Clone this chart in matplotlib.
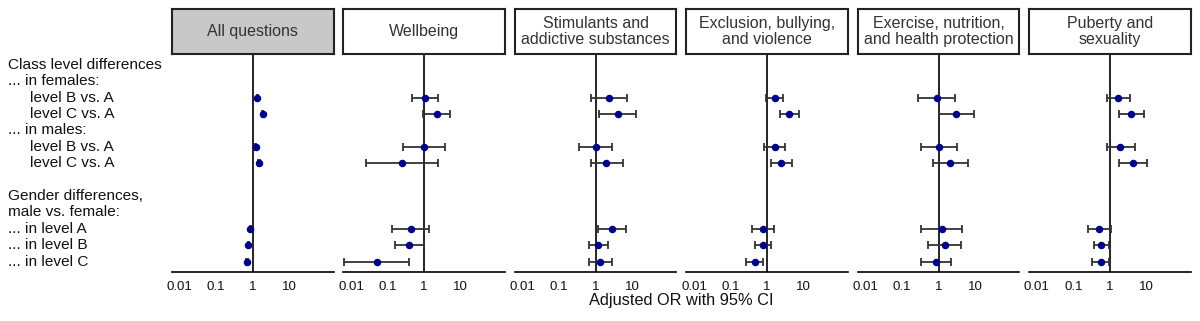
import matplotlib
matplotlib.use("Agg")
import matplotlib.pyplot as plt
import matplotlib.transforms as mtransforms
import numpy as np

plt.rcParams['font.family'] = ['Liberation Sans', 'DejaVu Sans']

# ---------------- data ----------------
panel_titles = ["All questions", "Wellbeing", "Stimulants and\naddictive substances",
                "Exclusion, bullying,\nand violence", "Exercise, nutrition,\nand health protection",
                "Puberty and\nsexuality"]

row_labels = ["Class level differences", "... in females:", "level B vs. A", "level C vs. A",
              "... in males:", "level B vs. A", "level C vs. A", "",
              "Gender differences,", "male vs. female:", "... in level A", "... in level B",
              "... in level C"]
estimate_rows = [2, 3, 5, 6, 10, 11, 12]

# odds ratios, lower and upper 95% CI per panel (order of estimate_rows)
or_all = [1.32, 1.88, 1.20, 1.48, 0.86, 0.76, 0.69]
lo_all = [1.27, 1.80, 1.15, 1.41, 0.82, 0.72, 0.65]
hi_all = [1.37, 1.96, 1.25, 1.55, 0.90, 0.80, 0.73]

or_well = [1.06, 2.18, 0.99, 0.24, 0.43, 0.39, 0.0515]
lo_well = [0.47, 0.90, 0.266, 0.026, 0.133, 0.154, 0.0063]
hi_well = [2.42, 5.15, 3.68, 2.32, 1.34, 0.96, 0.38]

or_stim = [2.30, 4.0, 1.02, 1.98, 2.78, 1.19, 1.35]
lo_stim = [0.76, 1.24, 0.36, 0.73, 1.14, 0.67, 0.67]
hi_stim = [7.1, 12.6, 2.84, 5.6, 6.67, 2.2, 2.72]

or_excl = [1.63, 4.08, 1.63, 2.45, 0.77, 0.76, 0.46]
lo_excl = [0.96, 2.25, 0.83, 1.29, 0.375, 0.46, 0.26]
hi_excl = [2.78, 7.4, 3.16, 4.84, 1.56, 1.24, 0.79]

or_exer = [0.88, 3.03, 1.04, 2.12, 1.21, 1.49, 0.86]
lo_exer = [0.28, 1.0, 0.33, 0.72, 0.34, 0.52, 0.33]
hi_exer = [2.91, 9.4, 3.3, 6.4, 4.33, 4.15, 2.21]

or_pub = [1.68, 3.85, 1.90, 4.27, 0.51, 0.58, 0.57]
lo_pub = [0.81, 1.71, 0.81, 1.71, 0.25, 0.37, 0.33]
hi_pub = [3.55, 8.5, 4.94, 10.4, 1.09, 0.94, 0.94]

panel_data = [(or_all, lo_all, hi_all), (or_well, lo_well, hi_well),
              (or_stim, lo_stim, hi_stim), (or_excl, lo_excl, hi_excl),
              (or_exer, lo_exer, hi_exer), (or_pub, lo_pub, hi_pub)]

x_ticks = [0.01, 0.1, 1, 10]
x_tick_labels = ["0.01", "0.1", "1", "10"]
x_label = "Adjusted OR with 95% CI"

# ---------------- layout ----------------
W_PX, H_PX = 1200, 321
fig = plt.figure(figsize=(W_PX / 100, H_PX / 100), dpi=100)

left0 = 172.0
pw = 161.5
step = 171.45
ax_top = 54.0
ax_bot = 271.7
strip_top = 9.0

row0_px = 64.9
row_step = 16.4
ylim = ((ax_bot - row0_px) / row_step, (ax_top - row0_px) / row_step)

navy = "#00008F"
ecol = "#333333"

axes = []
for i, (title, (o, lo, hi)) in enumerate(zip(panel_titles, panel_data)):
    L = (left0 + i * step) / W_PX
    ax = fig.add_axes([L, 1 - ax_bot / H_PX, pw / W_PX, (ax_bot - ax_top) / H_PX])
    axes.append(ax)
    o = np.array(o); lo = np.array(lo); hi = np.array(hi)
    ax.axvline(1, color="black", lw=1.2, zorder=1)
    ax.errorbar(o, estimate_rows, xerr=[o - lo, hi - o], fmt="o", color=navy,
                ecolor=ecol, elinewidth=1.3, capsize=2.6, capthick=1.3,
                ms=4.4, mec=navy, zorder=3)
    ax.set_xscale("log")
    ax.set_xlim(10 ** -2.21, 10 ** 2.21)
    ax.set_ylim(*ylim)
    for s in ["left", "right", "top"]:
        ax.spines[s].set_visible(False)
    ax.spines["bottom"].set_linewidth(1.2)
    ax.set_yticks([])
    ax.set_xticks(x_ticks)
    ax.set_xticklabels(x_tick_labels)
    ax.xaxis.set_minor_locator(matplotlib.ticker.NullLocator())
    ax.tick_params(axis="x", length=0, pad=6.5, labelsize=9.5, labelcolor="#111111")
    ax.set_facecolor("none")

    # strip
    sax = fig.add_axes([L, 1 - ax_top / H_PX, pw / W_PX, (ax_top - strip_top) / H_PX])
    sax.set_facecolor("#C8C8C8" if i == 0 else "white")
    sax.set_xticks([]); sax.set_yticks([])
    for s in sax.spines.values():
        s.set_linewidth(1.5)
        s.set_color("#222222")
    sax.text(0.5, 0.5, title, ha="center", va="center", fontsize=11.5,
             color="#333333", linespacing=1.05, transform=sax.transAxes)

# row labels
trans = mtransforms.blended_transform_factory(fig.transFigure, axes[0].transData)
for r, lab in enumerate(row_labels):
    if not lab:
        continue
    x = 30.5 if lab.startswith("level") else 8.0
    fig.text(x / W_PX, r, lab, transform=trans, ha="left", va="center",
             fontsize=11.1, color="#111111")

# axis label centered over panels
cx = (left0 + 5 * step + pw + left0) / 2 / W_PX
fig.text(cx, 1 - 301 / H_PX, x_label, ha="center", va="center", fontsize=11.8,
         color="#111111")

fig.savefig("out.png", dpi=100)
